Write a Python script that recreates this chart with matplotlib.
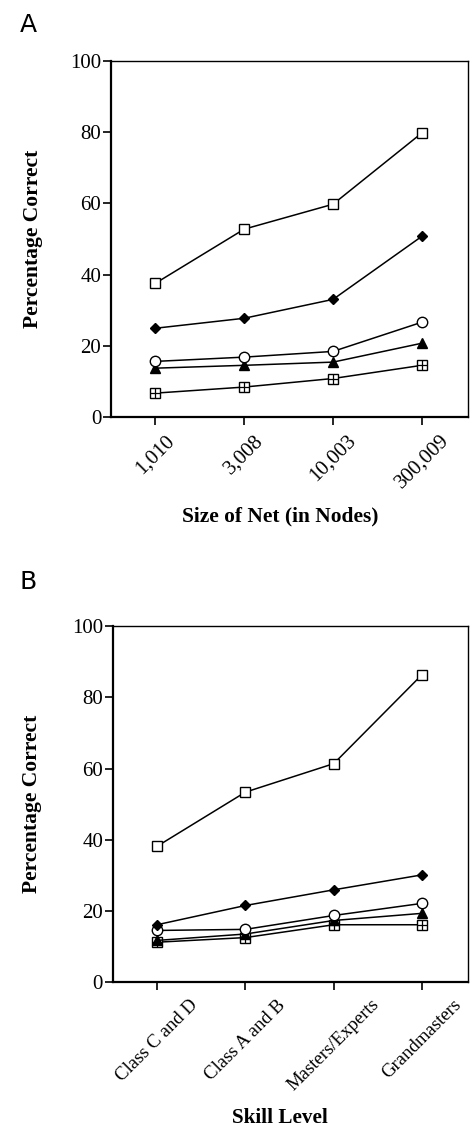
import numpy as np
import matplotlib
matplotlib.use("Agg")
import matplotlib.pyplot as plt

# Panel A: size of net
net_sizes = ["1,010", "3,008", "10,003", "300,009"]
a_square = [37.6, 52.8, 59.8, 79.8]
a_diamond = [25.0, 27.8, 33.1, 50.8]
a_circle = [15.7, 16.9, 18.5, 26.7]
a_triangle = [13.8, 14.6, 15.5, 20.8]
a_boxplus = [6.8, 8.5, 10.9, 14.6]

# Panel B: skill level
skill_levels = ["Class C and D", "Class A and B", "Masters/Experts", "Grandmasters"]
b_square = [38.2, 53.4, 61.4, 86.4]
b_diamond = [16.2, 21.6, 26.0, 30.2]
b_circle = [14.6, 14.9, 18.8, 22.2]
b_triangle = [11.8, 13.6, 17.4, 19.4]
b_boxplus = [11.3, 12.6, 16.2, 16.2]

yticks = [0, 20, 40, 60, 80, 100]

plt.rcParams['font.family'] = ['Liberation Serif', 'DejaVu Serif']

fig = plt.figure(figsize=(4.7, 11.28), dpi=100)
axA = fig.add_axes([0.236, 0.630, 0.760, 0.316])
axB = fig.add_axes([0.240, 0.129, 0.756, 0.316])

lw = 1.1
mkw = dict(color='black', linewidth=lw, markeredgewidth=1.0, markeredgecolor='black')


def draw_panel(ax, labels, sq, dm, ci, tr, bp, tick_fs):
    x = np.arange(len(labels))
    ax.plot(x, bp, marker='s', markersize=6.5, markerfacecolor='white', **mkw)
    ax.plot(x, bp, marker='+', markersize=6.5, linestyle='none', color='black',
            markeredgewidth=0.9)
    ax.plot(x, tr, marker='^', markersize=7, markerfacecolor='black', **mkw)
    ax.plot(x, ci, marker='o', markersize=7.5, markerfacecolor='white', **mkw)
    ax.plot(x, dm, marker='D', markersize=5.5, markerfacecolor='black', **mkw)
    ax.plot(x, sq, marker='s', markersize=7.5, markerfacecolor='white', **mkw)

    ax.set_xlim(-0.5, 3.52)
    ax.set_ylim(0, 100)
    ax.set_yticks(yticks)
    ax.set_xticks(x)
    ax.set_xticklabels(labels, rotation=45, fontsize=tick_fs)
    ax.tick_params(axis='y', labelsize=15, length=6, width=1.2, pad=1)
    ax.tick_params(axis='x', length=6, width=1.2, pad=4)
    for s in ['left', 'bottom']:
        ax.spines[s].set_linewidth(1.6)
    for s in ['top', 'right']:
        ax.spines[s].set_linewidth(1.0)
    ax.set_ylabel("Percentage Correct", fontsize=15.5, fontweight='bold')


draw_panel(axA, net_sizes, a_square, a_diamond, a_circle, a_triangle, a_boxplus, 15)
draw_panel(axB, skill_levels, b_square, b_diamond, b_circle, b_triangle, b_boxplus, 13.5)

axA.set_xlabel("Size of Net (in Nodes)", fontsize=15.4, fontweight='bold')
axA.xaxis.set_label_coords(0.473, -0.25)
axA.yaxis.set_label_coords(-0.19, 0.5)

axB.set_xlabel("Skill Level", fontsize=15.2, fontweight='bold')
axB.xaxis.set_label_coords(0.47, -0.352)
axB.yaxis.set_label_coords(-0.2, 0.5)

fig.text(20 / 470, 1 - 32 / 1128, "A", family='DejaVu Sans', fontsize=18,
         ha='left', va='baseline')
fig.text(20 / 470, 1 - 589 / 1128, "B", family='DejaVu Sans', fontsize=18,
         ha='left', va='baseline')

fig.savefig("out.png", dpi=100)
